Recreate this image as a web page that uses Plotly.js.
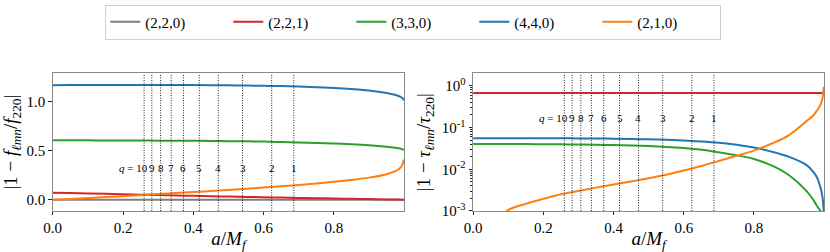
<!DOCTYPE html>
<html>
<head>
<meta charset="utf-8">
<script src="https://cdn.plot.ly/plotly-3.0.1.min.js"></script>
<style>html,body{margin:0;padding:0;background:#fff;}#chart{width:830px;height:252px;}</style>
</head>
<body>
<div id="chart"></div>
<script>
// spin grid a/M_f
const aGrid = [0, 0.05, 0.1, 0.15, 0.2, 0.25, 0.3, 0.35, 0.4, 0.45, 0.5, 0.55, 0.6, 0.65, 0.7, 0.75, 0.8, 0.85, 0.9, 0.95, 0.97, 0.98, 0.99, 0.995, 0.999];

// |1 - f_lmn / f_220|
const f220 = [0,0,0,0,0,0,0,0,0,0,0,0,0,0,0,0,0,0,0,0,0,0,0,0,0];
const f221 = [0.072,0.068,0.064,0.060,0.056,0.052,0.048,0.044,0.040,0.036,0.033,0.029,0.026,0.022,0.019,0.016,0.013,0.010,0.007,0.004,0.003,0.002,0.001,0.0005,0.0];
const f330 = [0.604,0.604,0.604,0.603,0.603,0.602,0.601,0.600,0.599,0.598,0.596,0.594,0.591,0.587,0.583,0.578,0.572,0.565,0.555,0.540,0.532,0.526,0.518,0.513,0.506];
const f440 = [1.165,1.166,1.166,1.167,1.167,1.167,1.167,1.166,1.166,1.165,1.163,1.161,1.158,1.155,1.150,1.144,1.136,1.125,1.110,1.085,1.070,1.060,1.045,1.033,1.010];
const f210 = [0,0.009,0.018,0.027,0.037,0.047,0.058,0.068,0.078,0.089,0.100,0.112,0.124,0.137,0.150,0.165,0.182,0.202,0.225,0.260,0.285,0.300,0.330,0.360,0.410];

// |1 - tau_lmn / tau_220|
const t221 = [0.675,0.675,0.675,0.675,0.675,0.675,0.675,0.675,0.675,0.675,0.675,0.675,0.675,0.675,0.675,0.675,0.675,0.675,0.675,0.675,0.675,0.675,0.675,0.675,0.675];
const t330 = [0.0403,0.0403,0.0402,0.0401,0.0399,0.0396,0.0392,0.0387,0.0380,0.0371,0.0360,0.0344,0.0322,0.0293,0.0255,0.0218,0.0177,0.0124,0.0072,0.0030,0.0018,0.0013,0.00098,0.0007,0.0004];
const t440 = [0.0552,0.0553,0.0554,0.0554,0.0554,0.0553,0.0550,0.0546,0.0540,0.0532,0.0522,0.0507,0.0488,0.0462,0.0430,0.0388,0.0333,0.0265,0.0198,0.0126,0.0084,0.0062,0.0035,0.0022,0.0009];
const t210 = [0,0.0004,0.00105,0.00148,0.00195,0.00251,0.0030,0.00363,0.00432,0.0051,0.0061,0.0074,0.0093,0.0120,0.0158,0.021,0.028,0.041,0.066,0.143,0.20,0.26,0.36,0.50,0.95];

// remnant spins for mass ratios q
const qVals = [10, 9, 8, 7, 6, 5, 4, 3, 2, 1];
const qSpins = [0.260, 0.282, 0.307, 0.337, 0.372, 0.417, 0.471, 0.540, 0.623, 0.686];

const modeNames = ['(2,2,0)', '(2,2,1)', '(3,3,0)', '(4,4,0)', '(2,1,0)'];
const colors = ['#7f7f7f', '#d62728', '#2ca02c', '#1f77b4', '#ff7f0e'];

const fSeries = [f220, f221, f330, f440, f210];
const tSeries = [null, t221, t330, t440, t210];

const traces = [];
fSeries.forEach((s, i) => {
  traces.push({x: aGrid, y: s, mode: 'lines', name: modeNames[i], legendgroup: modeNames[i],
    line: {color: colors[i], width: 2, shape: 'spline'}, xaxis: 'x', yaxis: 'y'});
});
tSeries.forEach((s, i) => {
  if (!s) return;
  traces.push({x: aGrid, y: s, mode: 'lines', name: modeNames[i], legendgroup: modeNames[i], showlegend: false,
    line: {color: colors[i], width: 2, shape: 'spline'}, xaxis: 'x2', yaxis: 'y2'});
});

const serif = 'Liberation Serif';
const shapes = [];
const annotations = [];
[['x', 'y', 0.325], ['x2', 'y2', -0.775]].forEach(([xr, yr, ly]) => {
  qSpins.forEach((a, i) => {
    shapes.push({type: 'line', xref: xr, yref: yr + ' domain', x0: a, x1: a, y0: 0, y1: 1,
      line: {color: '#222', width: 1, dash: '1px,1.5px'}});
    const first = i === 0;
    annotations.push({xref: xr, yref: yr, x: first ? a + 0.016 : a, y: ly,
      text: first ? '<i>q</i> = ' + qVals[i] : String(qVals[i]),
      xanchor: first ? 'right' : 'center', yanchor: 'middle', showarrow: false,
      font: {family: serif, size: 11, color: '#000'}});
  });
});

const axBase = {
  showline: true, mirror: true, linecolor: '#8a8a8a', linewidth: 1,
  ticks: 'outside', ticklen: 3.5, tickwidth: 1, tickcolor: '#222',
  showgrid: false, zeroline: false,
  tickfont: {family: serif, size: 15, color: '#000'}
};
const xTicks = [0, 0.2, 0.4, 0.6, 0.8];
const xText = ['0.0', '0.2', '0.4', '0.6', '0.8'];
const xTitle = {text: '<i>a</i>/<i>M</i><sub><i>f</i></sub>', font: {family: serif, size: 19, color: '#000'}, standoff: 5};

const layout = {
  width: 830, height: 252,
  margin: {l: 0, r: 0, t: 0, b: 0},
  paper_bgcolor: '#fff', plot_bgcolor: '#fff',
  font: {family: serif, color: '#000'},
  showlegend: true,
  legend: {orientation: 'h', xref: 'container', yref: 'container', x: 0.498, xanchor: 'center', y: 0.982, yanchor: 'top',
    bordercolor: '#d0d0d0', borderwidth: 1, bgcolor: '#fff', entrywidth: 78, entrywidthmode: 'pixels',
    font: {family: serif, size: 15, color: '#000'}},
  xaxis: Object.assign({}, axBase, {domain: [0.0635, 0.487], range: [0, 1], anchor: 'y',
    tickvals: xTicks, ticktext: xText, title: xTitle}),
  yaxis: Object.assign({}, axBase, {domain: [0.193, 0.841], range: [-0.114, 1.285], anchor: 'x',
    tickvals: [0, 0.5, 1.0], ticktext: ['0.0', '0.5', '1.0'],
    title: {text: '|1 − <i>f</i><sub><i>ℓmn</i></sub>/<i>f</i><sub>220</sub>|', font: {family: serif, size: 19, color: '#000'}, standoff: 8}}),
  xaxis2: Object.assign({}, axBase, {domain: [0.570, 0.993], range: [0, 1], anchor: 'y2',
    tickvals: xTicks, ticktext: xText, title: xTitle}),
  yaxis2: Object.assign({}, axBase, {domain: [0.193, 0.841], type: 'log', range: [-3, 0.3], anchor: 'x2',
    tickvals: [0.001, 0.01, 0.1, 1], ticktext: ['10<sup>-3</sup>', '10<sup>-2</sup>', '10<sup>-1</sup>', '10<sup>0</sup>'],
    minor: {ticks: 'outside', ticklen: 2, tickcolor: '#222', dtick: 'D1', showgrid: false},
    title: {text: '|1 − <i>τ</i><sub><i>ℓmn</i></sub>/<i>τ</i><sub>220</sub>|', font: {family: serif, size: 19, color: '#000'}, standoff: 6}}),
  shapes: shapes,
  annotations: annotations
};

Plotly.newPlot('chart', traces, layout, {displayModeBar: false, staticPlot: true});
</script>
</body>
</html>
